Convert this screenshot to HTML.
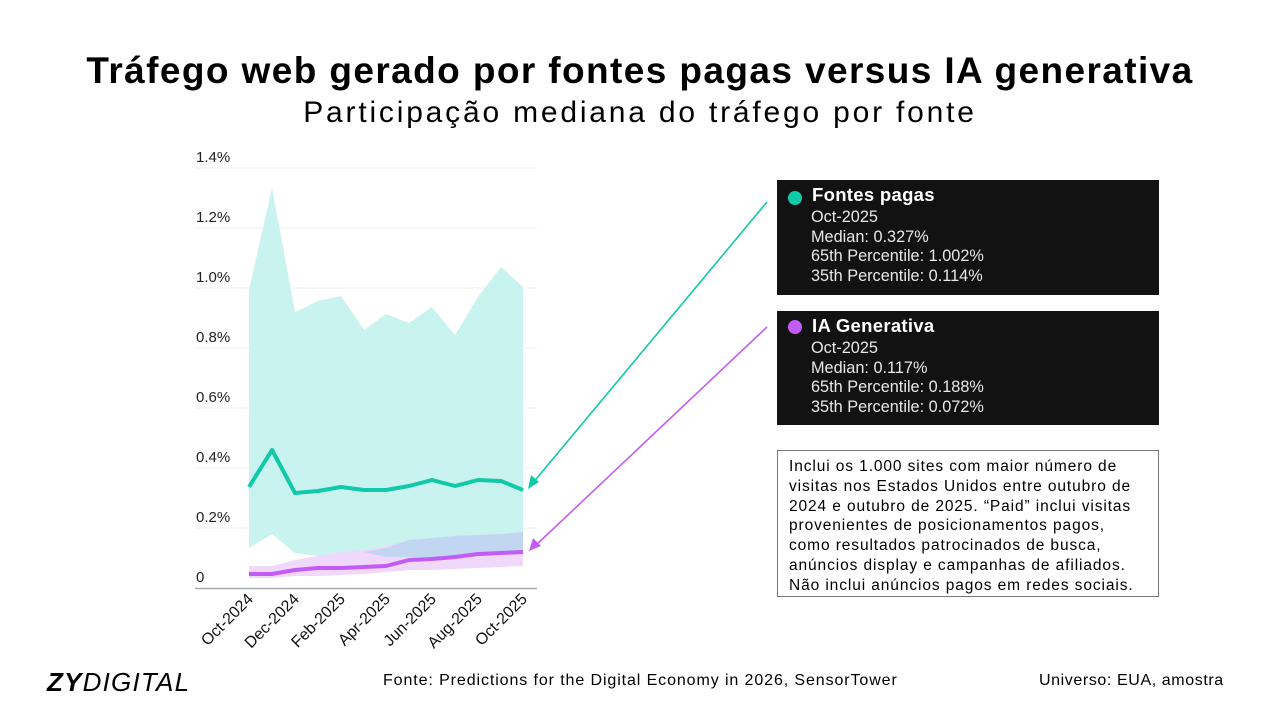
<!DOCTYPE html>
<html><head><meta charset="utf-8"><style>
body{margin:0;width:1280px;height:720px;background:#fff;position:relative;overflow:hidden;font-family:"Liberation Sans",sans-serif;color:#000}
.abs{position:absolute;white-space:nowrap}
.box{position:absolute;left:777px;width:382px;background:#121212;color:#e8e8e8;font-size:16.3px}
.box .l{position:absolute;left:34px;white-space:nowrap}
.box .t{font-size:18.5px;font-weight:bold;color:#fff;letter-spacing:0.3px}
.dot{position:absolute;left:11px;width:14px;height:14px;border-radius:50%}
</style></head><body>
<div class="abs" style="left:0;width:1280px;text-align:center;top:50px;font-size:37px;font-weight:bold;letter-spacing:1.4px">Tráfego web gerado por fontes pagas versus IA generativa</div>
<div class="abs" style="left:0;width:1280px;text-align:center;top:96px;font-size:30px;letter-spacing:2.8px">Participação mediana do tráfego por fonte</div>

<svg class="abs" style="left:0;top:0" width="1280" height="720">
<g stroke="#eee" stroke-width="1">
<line x1="195" x2="537" y1="168" y2="168"/><line x1="195" x2="537" y1="228" y2="228"/><line x1="195" x2="537" y1="288" y2="288"/><line x1="195" x2="537" y1="348" y2="348"/><line x1="195" x2="537" y1="408" y2="408"/><line x1="195" x2="537" y1="468" y2="468"/><line x1="195" x2="537" y1="528" y2="528"/>
</g>
<line x1="195" x2="537" y1="588.5" y2="588.5" stroke="#aaa" stroke-width="1.5"/>
<g font-size="15" fill="#222">
<text x="196" y="162">1.4%</text><text x="196" y="222">1.2%</text><text x="196" y="282">1.0%</text><text x="196" y="342">0.8%</text><text x="196" y="402">0.6%</text><text x="196" y="462">0.4%</text><text x="196" y="522">0.2%</text><text x="196" y="582">0</text>
</g>
<polygon fill="#c8f3ee" points="249,290 272,188 295,312 318,301 341,296 364,330 386,314 409,323 432,307 455,335 478,297 501,267 523,287 523,554 501,555 478,556 455,557 432,557 409,557 386,557 364,556 341,558 318,556 295,553 272,534 249,548"/>
<polygon fill="#f0d8fa" points="249,566 272,566 295,560 318,556 341,552 364,550 386,546 409,540 432,538 455,536 478,535 501,534 523,532 523,566 501,567 478,568 455,569 432,570 409,570 386,572 364,574 341,575 318,576 295,576 272,578 249,578"/>
<polygon fill="#bcd6f0" opacity="0.9" points="364,552 386,548 409,540 432,538 455,536 478,535 501,534 523,532 523,554 501,555 478,556 455,557 432,557 409,557 386,557"/>
<polyline fill="none" stroke="#10c9a8" stroke-width="4" stroke-linejoin="round" points="249,487 272,450 295,493 318,491 341,487 364,490 386,490 409,486 432,480 455,486 478,480 501,481 523,490"/>
<polyline fill="none" stroke="#c25cf5" stroke-width="4" stroke-linejoin="round" points="249,574 272,574 295,570 318,568 341,568 364,567 386,566 409,560 432,559 455,557 478,554 501,553 523,552"/>
<g font-size="16" fill="#111">
<text transform="translate(254,600) rotate(-45)" text-anchor="end">Oct-2024</text>
<text transform="translate(300,600) rotate(-45)" text-anchor="end">Dec-2024</text>
<text transform="translate(346,600) rotate(-45)" text-anchor="end">Feb-2025</text>
<text transform="translate(391,600) rotate(-45)" text-anchor="end">Apr-2025</text>
<text transform="translate(437,600) rotate(-45)" text-anchor="end">Jun-2025</text>
<text transform="translate(483,600) rotate(-45)" text-anchor="end">Aug-2025</text>
<text transform="translate(528,600) rotate(-45)" text-anchor="end">Oct-2025</text>
</g>
<line x1="767" y1="202" x2="532" y2="484" stroke="#10c9a8" stroke-width="1.6"/>
<polygon fill="#10c9a8" points="528,489 531,475 539,482"/>
<line x1="767" y1="327" x2="534" y2="547" stroke="#c25cf5" stroke-width="1.6"/>
<polygon fill="#c25cf5" points="529,551 533,538 541,546"/>
</svg>

<div class="box" style="top:180px;height:115px">
<div class="dot" style="top:11px;background:#10c9a8"></div>
<div class="l t" style="top:4px;left:35px">Fontes pagas</div>
<div class="l" style="top:28px">Oct-2025</div>
<div class="l" style="top:48px">Median: 0.327%</div>
<div class="l" style="top:67px">65th Percentile: 1.002%</div>
<div class="l" style="top:87px">35th Percentile: 0.114%</div>
</div>
<div class="box" style="top:311px;height:114px">
<div class="dot" style="top:9px;background:#c25cf5"></div>
<div class="l t" style="top:4px;left:35px">IA Generativa</div>
<div class="l" style="top:28px">Oct-2025</div>
<div class="l" style="top:48px">Median: 0.117%</div>
<div class="l" style="top:67px">65th Percentile: 0.188%</div>
<div class="l" style="top:87px">35th Percentile: 0.072%</div>
</div>
<div style="position:absolute;left:777px;top:450px;width:382px;height:147px;border:1px solid #777;font-size:15.5px;letter-spacing:0.9px;line-height:19.8px;padding:6px 0 0 11px;box-sizing:border-box;white-space:nowrap">
Inclui os 1.000 sites com maior número de<br>visitas nos Estados Unidos entre outubro de<br>2024 e outubro de 2025. “Paid” inclui visitas<br>provenientes de posicionamentos pagos,<br>como resultados patrocinados de busca,<br>anúncios display e campanhas de afiliados.<br>Não inclui anúncios pagos em redes sociais.
</div>
<div class="abs" style="left:47px;top:667px;font-size:26px;letter-spacing:1.2px"><b style="font-style:italic">ZY</b><i style="font-weight:300">DIGITAL</i></div>
<div class="abs" style="left:383px;top:672px;font-size:16px;letter-spacing:0.9px">Fonte: Predictions for the Digital Economy in 2026, SensorTower</div>
<div class="abs" style="left:1039px;top:672px;font-size:16px;letter-spacing:0.6px">Universo: EUA, amostra</div>
</body></html>
